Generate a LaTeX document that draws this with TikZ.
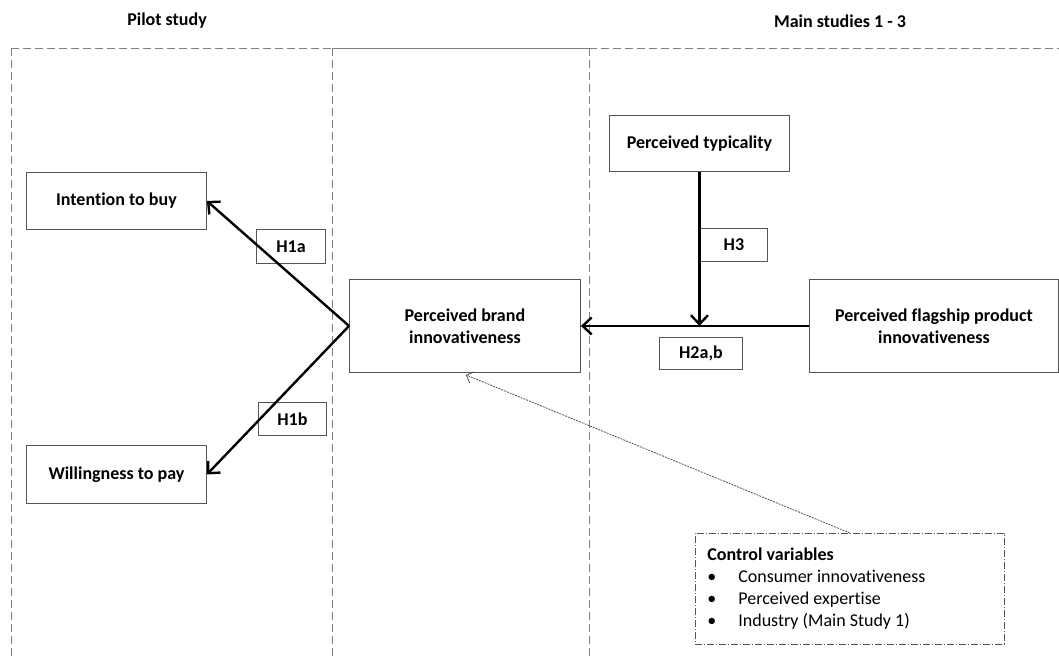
\documentclass[tikz,border=0pt]{standalone}
\usepackage{fontspec}
\setmainfont{Carlito}[Ligatures=NoCommon]
\usetikzlibrary{arrows.meta,calc}
\usepackage{xcolor}
\definecolor{boxline}{HTML}{555555}
\definecolor{frameline}{HTML}{808080}
\tikzset{
  var/.style={draw=boxline,line width=0.9pt,anchor=north west,align=center,inner sep=0pt,font=\fontsize{18}{22}\selectfont\bfseries},
  hyp/.style={draw=boxline,line width=0.9pt,anchor=north west,align=center,inner sep=0pt,font=\fontsize{18}{22}\selectfont\bfseries},
  title/.style={font=\fontsize{18}{22}\selectfont\bfseries},
  arr/.style={line width=2.4pt,-{Straight Barb[length=9pt,width=17pt,line width=2.4pt]}},
  ctrlarr/.style={line width=0.7pt,draw=black!75,dash pattern=on 2pt off 1pt,-{Straight Barb[length=6pt,width=12pt,line width=0.7pt]}},
  frame/.style={draw=frameline,line width=0.8pt,dash pattern=on 8pt off 4pt}
}

\begin{document}
\begin{tikzpicture}[x=1pt,y=-1pt]
    \useasboundingbox (0,0) rectangle (1059,657);
    \node[title] (pilot) at (167,21) {Pilot study};
    \node[title] (main) at (840,21) {Main studies 1 - 3};
    \draw[frame] (11,48) -- (332,48);
    \draw[draw=frameline,line width=0.8pt] (332,48) -- (589,48);
    \draw[frame] (589,48) -- (1059,48);
    \draw[frame] (11,48) -- (11,657);
    \draw[frame] (332,48) -- (332,657);
    \draw[frame] (589,48) -- (589,657);
    \node[var,minimum width=180pt,minimum height=57pt] (buy) at (26,172) {Intention to buy};
    \node[var,minimum width=180pt,minimum height=58pt] (pay) at (26,445) {Willingness to pay};
    \node[var,minimum width=231pt,minimum height=93pt] (brand) at (349,279) {Perceived brand\\innovativeness};
    \node[var,minimum width=180pt,minimum height=56pt] (typ) at (609,115) {Perceived typicality};
    \node[var,minimum width=249pt,minimum height=93pt] (flag) at (809,279) {Perceived flagship product\\innovativeness};
    \node[hyp,minimum width=69pt,minimum height=34pt] (h1a) at (256,229) {H1a};
    \node[hyp,minimum width=68pt,minimum height=33pt] (h1b) at (258,402) {H1b};
    \node[hyp,minimum width=67pt,minimum height=33pt] (h3) at (700,228) {H3};
    \node[hyp,minimum width=83pt,minimum height=32pt] (h2) at (659,337) {H2a,b};
    \node[draw=boxline,line width=0.7pt,dash pattern=on 7pt off 2pt on 1pt off 2pt,anchor=north west,
          minimum width=309pt,minimum height=111pt,inner xsep=12pt,text width=285pt,align=flush left,
          font=\fontsize{18}{22}\selectfont] (ctrl) at (695,533)
          {\textbf{Control variables}\\
           \makebox[31pt][l]{\textbullet}Consumer innovativeness\\
           \makebox[31pt][l]{\textbullet}Perceived expertise\\
           \makebox[31pt][l]{\textbullet}Industry (Main Study 1)};
    \coordinate (join) at (typ.south |- brand.east);
    \draw[arr] (brand.west) -- (buy.east);
    \draw[arr] (brand.west) -- (pay.east);
    \draw[arr] (flag.west) -- (brand.east);
    \draw[arr] (typ.south) -- (join);
    \draw[ctrlarr] (ctrl.north) -- ($(brand.south)+(1,2)$);
\end{tikzpicture}
\end{document}
